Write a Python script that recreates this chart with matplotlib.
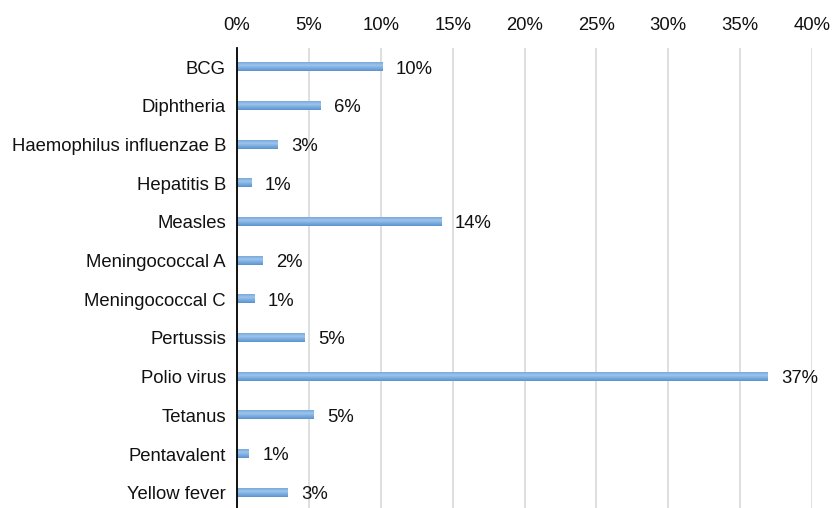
import numpy as np
import matplotlib.pyplot as plt

# vaccine categories and percentages
vaccines = ["BCG", "Diphtheria", "Haemophilus influenzae B", "Hepatitis B",
            "Measles", "Meningococcal A", "Meningococcal C", "Pertussis",
            "Polio virus", "Tetanus", "Pentavalent", "Yellow fever"]
values = [10.1, 5.8, 2.8, 1.0, 14.2, 1.8, 1.2, 4.7, 36.9, 5.3, 0.8, 3.5]
labels = ["10%", "6%", "3%", "1%", "14%", "2%", "1%", "5%", "37%", "5%", "1%", "3%"]

plt.rcParams['font.family'] = ['Liberation Sans', 'DejaVu Sans']

fig = plt.figure(figsize=(8.35, 5.08), dpi=100)
# axes: left at x=237, right at x=812, top at y~48
ax = fig.add_axes([237/835, -4/508, (812-237)/835, (508-48+4)/508])

y = np.arange(len(vaccines))
bars = ax.barh(y, values, height=0.21, color='#6ea3d8', zorder=3)

# a simple vertical gradient on each bar
grad = np.linspace(0, 1, 50).reshape(-1, 1)
cmap = plt.matplotlib.colors.LinearSegmentedColormap.from_list('b', ['#9cc4ec', '#5a93cf'])
for b in bars:
    x0, y0 = b.get_x(), b.get_y()
    w, h = b.get_width(), b.get_height()
    ax.imshow(np.abs(grad - 0.35), extent=[x0, x0 + w, y0 + h, y0], aspect='auto',
              cmap=cmap, zorder=4)
    b.set_visible(False)

for yi, v, t in zip(y, values, labels):
    ax.text(v + 0.95, yi + 0.05, t, va='center', ha='left', fontsize=13.3, color='#111111')

ax.set_xlim(0, 40)
ax.set_ylim(len(vaccines) - 0.5, -0.5)
ax.set_xticks(np.arange(0, 41, 5))
ax.set_xticklabels([f"{i}%" for i in range(0, 41, 5)])
ax.xaxis.tick_top()
ax.set_yticks(y)
ax.set_yticklabels(vaccines)
ax.tick_params(axis='both', length=0, labelsize=13.3, colors='#111111')
ax.tick_params(axis='x', pad=10)
ax.tick_params(axis='y', pad=8)
ax.grid(axis='x', color='#d9d9d9', linewidth=1.2, zorder=0)
for s in ['top', 'right', 'bottom']:
    ax.spines[s].set_visible(False)
ax.spines['left'].set_color('black')
ax.spines['left'].set_linewidth(1.3)
ax.spines['left'].set_zorder(5)

plt.savefig("out.png", dpi=100)
